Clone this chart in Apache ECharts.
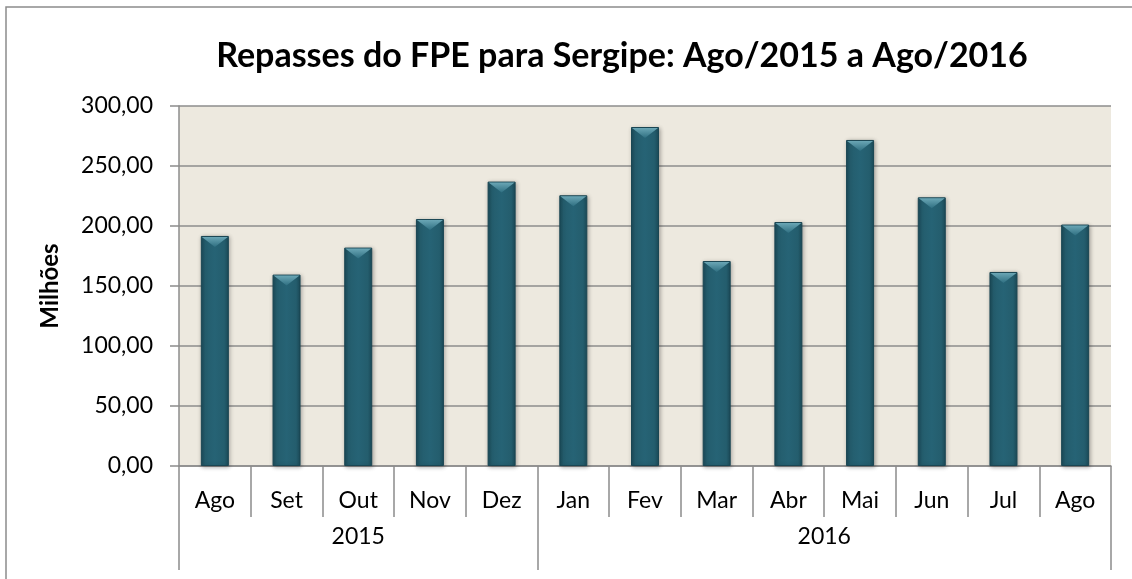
<!DOCTYPE html>
<html>
<head>
<meta charset="utf-8">
<script src="https://cdn.jsdelivr.net/npm/echarts@6/dist/echarts.min.js"></script>
<style>
html,body{margin:0;padding:0;background:#fff;}
#chart{width:1132px;height:579px;}
</style>
</head>
<body>
<div id="chart"></div>
<script>
var months = ['Ago','Set','Out','Nov','Dez','Jan','Fev','Mar','Abr','Mai','Jun','Jul','Ago'];
var values = [191.7, 159.5, 182.0, 205.8, 237.0, 225.6, 282.5, 170.8, 203.3, 271.7, 223.9, 161.7, 201.2];
var years = ['2015', '2016'];
var yearSpans = [5, 8]; // number of months in each year group
var titleText = 'Repasses do FPE para Sergipe: Ago/2015 a Ago/2016';
var yAxisName = 'Milhões';

// Build half-month positions for the year axis (boundaryGap false)
var total = months.length * 2;
var yearAxisData = [];
var yearTicks = {};
var pos = 0;
yearTicks[0] = true;
for (var i = 0; i <= total; i++) yearAxisData.push('');
for (var g = 0; g < years.length; g++) {
  var start = pos;
  pos += yearSpans[g] * 2;
  yearTicks[pos] = true;
  yearAxisData[(start + pos) / 2] = years[g];
}

var font = 'Lato, "Open Sans", sans-serif';
var chart = echarts.init(document.getElementById('chart'));
chart.setOption({
  animation: false,
  backgroundColor: '#ffffff',
  graphic: [{
    type: 'rect', shape: {x: 6, y: 7, width: 1200, height: 700},
    style: {fill: 'none', stroke: '#8c8c8c', lineWidth: 1.5}, z: -1
  }],
  title: {
    text: titleText, left: 617, top: 34, textAlign: 'center',
    textStyle: {fontFamily: font, fontWeight: 'bold', fontSize: 34, color: '#000'}
  },
  grid: {left: 179, right: 21, top: 106, bottom: 113, show: true,
    backgroundColor: '#EDE9DF', borderWidth: 0},
  xAxis: [{
    type: 'category', data: months, position: 'bottom',
    axisLine: {lineStyle: {color: '#8c8c8c', width: 1.5}},
    axisTick: {show: true, interval: 0, length: 51, lineStyle: {color: '#8c8c8c', width: 1.5}},
    axisLabel: {interval: 0, margin: 23, fontFamily: font, fontSize: 23, color: '#000'}
  }, {
    type: 'category', data: yearAxisData, position: 'bottom', boundaryGap: false,
    axisLine: {show: false},
    axisTick: {show: true, length: 104, interval: function (idx) { return !!yearTicks[idx]; },
      lineStyle: {color: '#8c8c8c', width: 1.5}},
    axisLabel: {interval: 0, margin: 59, fontFamily: font, fontSize: 23, color: '#000'}
  }],
  yAxis: {
    type: 'value', min: 0, max: 300, interval: 50,
    name: yAxisName, nameLocation: 'middle', nameRotate: 90, nameGap: 117,
    nameTextStyle: {fontFamily: font, fontWeight: 'bold', fontSize: 24, color: '#000'},
    axisLine: {show: true, lineStyle: {color: '#8c8c8c', width: 1.5}},
    axisTick: {show: true, length: 9, lineStyle: {color: '#8c8c8c', width: 1.5}},
    axisLabel: {margin: 26, fontFamily: font, fontSize: 23, color: '#000',
      formatter: function (v) { return v.toFixed(2).replace('.', ','); }},
    splitLine: {lineStyle: {color: '#8c8c8c', width: 1.5}}
  },
  series: [{
    type: 'bar', data: values, xAxisIndex: 0, barWidth: 28,
    itemStyle: {
      color: new echarts.graphic.LinearGradient(0, 0, 1, 0, [
        {offset: 0, color: '#1b4b59'},
        {offset: 0.15, color: '#245d6d'},
        {offset: 0.5, color: '#266375'},
        {offset: 0.85, color: '#245d6d'},
        {offset: 1, color: '#1b4b59'}
      ]),
      borderColor: '#1a4653', borderWidth: 1,
      shadowColor: 'rgba(0,0,0,0.3)', shadowBlur: 4, shadowOffsetX: 1, shadowOffsetY: 1
    }
  }, {
    type: 'pictorialBar', data: values, xAxisIndex: 0, barGap: '-100%',
    symbol: 'path://M0,0 L20,0 L10,7 Z', symbolSize: [26, 10],
    symbolPosition: 'end', symbolOffset: [0, 1], z: 3,
    itemStyle: {
      color: new echarts.graphic.LinearGradient(0, 0, 0, 1, [
        {offset: 0, color: '#6aa6b5'},
        {offset: 1, color: '#2f6f81'}
      ])
    }
  }]
});
</script>
</body>
</html>
